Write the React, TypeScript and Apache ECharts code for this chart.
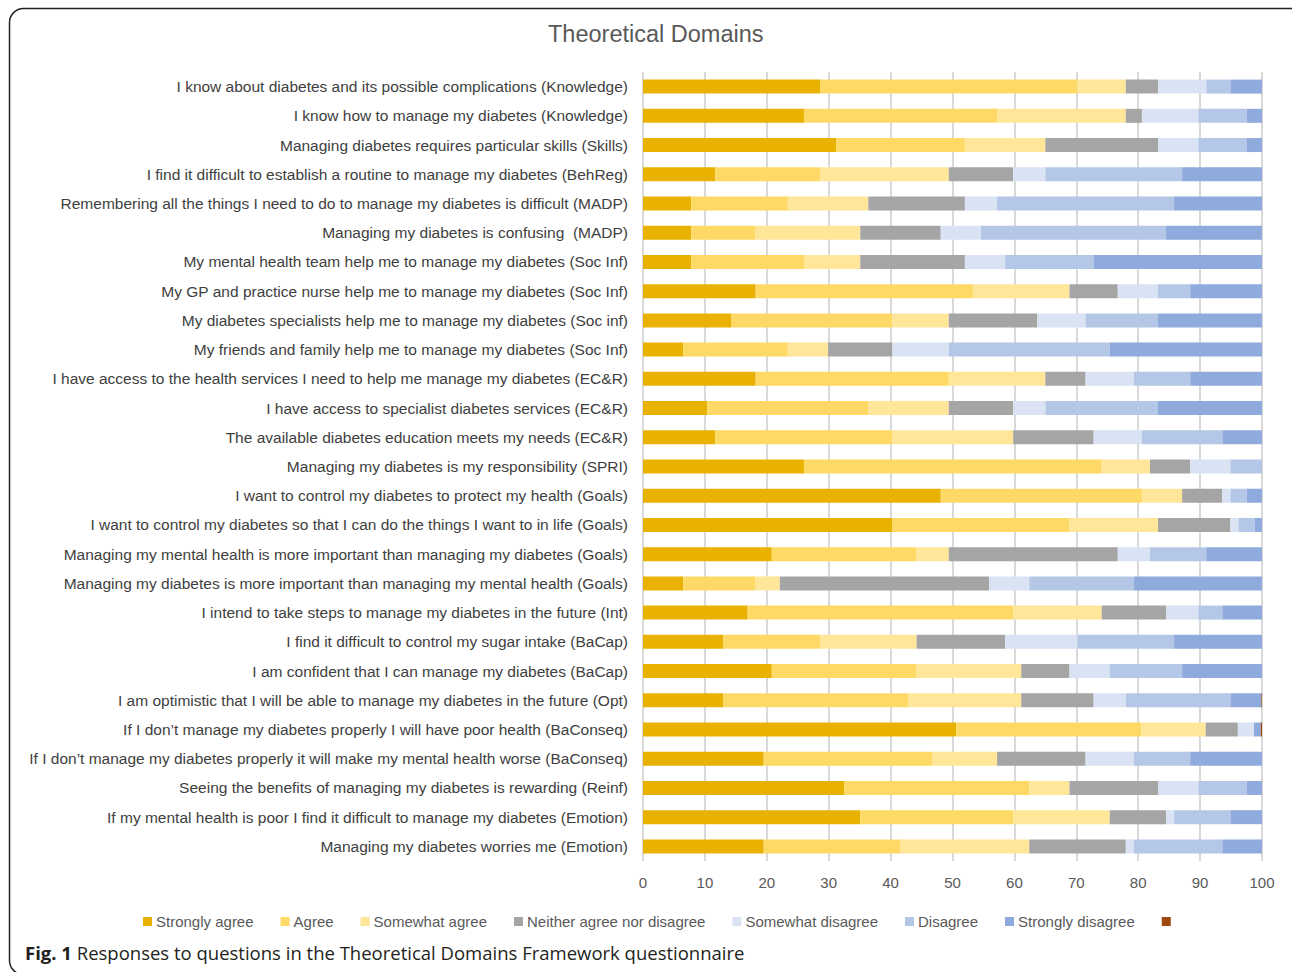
import React, { useEffect, useRef } from "react";
import * as echarts from "echarts";

const categories = [
  "I know about diabetes and its possible complications (Knowledge)",
  "I know how to manage my diabetes (Knowledge)",
  "Managing diabetes requires particular skills (Skills)",
  "I find it difficult to establish a routine to manage my diabetes (BehReg)",
  "Remembering all the things I need to do to manage my diabetes is difficult (MADP)",
  "Managing my diabetes is confusing  (MADP)",
  "My mental health team help me to manage my diabetes (Soc Inf)",
  "My GP and practice nurse help me to manage my diabetes (Soc Inf)",
  "My diabetes specialists help me to manage my diabetes (Soc inf)",
  "My friends and family help me to manage my diabetes (Soc Inf)",
  "I have access to the health services I need to help me manage my diabetes (EC&R)",
  "I have access to specialist diabetes services (EC&R)",
  "The available diabetes education meets my needs (EC&R)",
  "Managing my diabetes is my responsibility (SPRI)",
  "I want to control my diabetes to protect my health (Goals)",
  "I want to control my diabetes so that I can do the things I want to in life (Goals)",
  "Managing my mental health is more important than managing my diabetes (Goals)",
  "Managing my diabetes is more important than managing my mental health (Goals)",
  "I intend to take steps to manage my diabetes in the future (Int)",
  "I find it difficult to control my sugar intake (BaCap)",
  "I am confident that I can manage my diabetes (BaCap)",
  "I am optimistic that I will be able to manage my diabetes in the future (Opt)",
  "If I don\u2019t manage my diabetes properly I will have poor health (BaConseq)",
  "If I don\u2019t manage my diabetes properly it will make my mental health worse (BaConseq)",
  "Seeing the benefits of managing my diabetes is rewarding (Reinf)",
  "If my mental health is poor I find it difficult to manage my diabetes (Emotion)",
  "Managing my diabetes worries me (Emotion)",
];

const stronglyAgree = [28.6, 26.0, 31.2, 11.7, 7.8, 7.8, 7.8, 18.2, 14.3, 6.5, 18.2, 10.4, 11.7, 26.0, 48.1, 40.3, 20.8, 6.5, 16.9, 13.0, 20.8, 13.0, 50.6, 19.5, 32.5, 35.1, 19.5];
const agree = [41.6, 31.2, 20.8, 16.9, 15.6, 10.4, 18.2, 35.1, 26.0, 16.9, 31.2, 26.0, 28.6, 48.1, 32.5, 28.6, 23.4, 11.7, 42.9, 15.6, 23.4, 29.9, 29.9, 27.3, 29.9, 24.7, 22.1];
const somewhatAgree = [7.8, 20.8, 13.0, 20.8, 13.0, 16.9, 9.1, 15.6, 9.1, 6.5, 15.6, 13.0, 19.5, 7.8, 6.5, 14.3, 5.2, 3.9, 14.3, 15.6, 16.9, 18.2, 10.4, 10.4, 6.5, 15.6, 20.8];
const neither = [5.2, 2.6, 18.2, 10.4, 15.6, 13.0, 16.9, 7.8, 14.3, 10.4, 6.5, 10.4, 13.0, 6.5, 6.5, 11.7, 27.3, 33.8, 10.4, 14.3, 7.8, 11.7, 5.2, 14.3, 14.3, 9.1, 15.6];
const somewhatDisagree = [7.8, 9.1, 6.5, 5.2, 5.2, 6.5, 6.5, 6.5, 7.8, 9.1, 7.8, 5.2, 7.8, 6.5, 1.3, 1.3, 5.2, 6.5, 5.2, 11.7, 6.5, 5.2, 2.6, 7.8, 6.5, 1.3, 1.3];
const disagree = [3.9, 7.8, 7.8, 22.1, 28.6, 29.9, 14.3, 5.2, 11.7, 26.0, 9.1, 18.2, 13.0, 5.2, 2.6, 2.6, 9.1, 16.9, 3.9, 15.6, 11.7, 16.9, 0, 9.1, 7.8, 9.1, 14.3];
const stronglyDisagree = [5.2, 2.6, 2.6, 13.0, 14.3, 15.6, 27.3, 11.7, 16.9, 24.7, 11.7, 16.9, 6.5, 0, 2.6, 1.3, 9.1, 20.8, 6.5, 14.3, 13.0, 5.0, 1.1, 11.7, 2.6, 5.2, 6.5];
const unlabelled = [0, 0, 0, 0, 0, 0, 0, 0, 0, 0, 0, 0, 0, 0, 0, 0, 0, 0, 0, 0, 0, 0.3, 0.3, 0, 0, 0, 0];

const xTicks = [0, 10, 20, 30, 40, 50, 60, 70, 80, 90, 100];

const seriesDefs = [
  { name: "Strongly agree", data: stronglyAgree, color: "#E9B200" },
  { name: "Agree", data: agree, color: "#FFD966" },
  { name: "Somewhat agree", data: somewhatAgree, color: "#FFE699" },
  { name: "Neither agree nor disagree", data: neither, color: "#A5A5A5" },
  { name: "Somewhat disagree", data: somewhatDisagree, color: "#DAE3F3" },
  { name: "Disagree", data: disagree, color: "#B4C7E7" },
  { name: "Strongly disagree", data: stronglyDisagree, color: "#8FAADC" },
  { name: " ", data: unlabelled, color: "#9E480E" },
];

const FONT = "'Liberation Sans', sans-serif";

export default function App() {
  const ref = useRef<HTMLDivElement>(null);
  useEffect(() => {
    document.body.style.margin = "0";
    const chart = echarts.init(ref.current!, null, { renderer: "svg" });
    chart.setOption({
      animation: false,
      backgroundColor: "#ffffff",
      title: {
        text: "Theoretical Domains",
        left: 543,
        top: 17,
        textStyle: { fontFamily: FONT, fontSize: 23.5, fontWeight: "normal", color: "#595959" },
      },
      legend: {
        data: seriesDefs.map((s) => s.name),
        left: 138,
        top: 909,
        itemWidth: 9,
        itemHeight: 9,
        itemGap: 27,
        icon: "rect",
        textStyle: { fontFamily: FONT, fontSize: 15, color: "#595959", padding: [0, 0, 0, -1] },
      },
      grid: { left: 643, right: 30, top: 72, bottom: 111, containLabel: false },
      xAxis: {
        type: "value",
        min: xTicks[0],
        max: xTicks[xTicks.length - 1],
        interval: 10,
        axisLine: { show: false },
        axisTick: { show: false },
        splitLine: { show: true, lineStyle: { color: "#D9D9D9", width: 2 } },
        axisLabel: { fontFamily: FONT, fontSize: 15, color: "#595959", margin: 14 },
      },
      yAxis: {
        type: "category",
        inverse: true,
        data: categories,
        axisLine: { show: false },
        axisTick: { show: false },
        axisLabel: { fontFamily: FONT, fontSize: 15.5, color: "#404040", margin: 15 },
      },
      series: seriesDefs.map((s) => ({
        name: s.name,
        type: "bar",
        stack: "total",
        barWidth: 14,
        data: s.data,
        itemStyle: { color: s.color },
        emphasis: { disabled: true },
      })),
      graphic: [
        {
          type: "rect",
          shape: { x: 9.5, y: 8.5, width: 1300, height: 966, r: 14 },
          style: { fill: "none", stroke: "#222222", lineWidth: 1.5 },
          silent: true,
        },
        {
          type: "text",
          left: 25,
          top: 943,
          style: {
            text: "{b|Fig. 1} Responses to questions in the Theoretical Domains Framework questionnaire",
            font: "18.5px 'Open Sans', sans-serif",
            fill: "#231F20",
            rich: {
              b: { fontFamily: "'Open Sans', sans-serif", fontSize: 18.5, fontWeight: "bold", fill: "#231F20" },
            },
          },
        },
      ],
    });
    return () => chart.dispose();
  }, []);
  return <div ref={ref} style={{ width: 1292, height: 972 }} />;
}
